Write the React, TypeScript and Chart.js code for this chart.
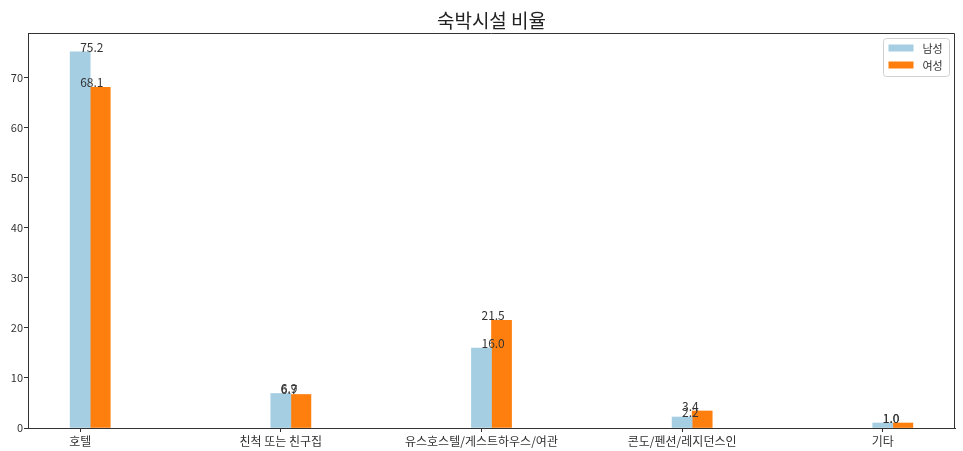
import React, { useEffect, useRef } from 'react';
import { Chart, registerables } from 'chart.js';

Chart.register(...registerables);

const chartTitle = '숙박시설 비율';
const categories = ['호텔', '친척 또는 친구집', '유스호스텔/게스트하우스/여관', '콘도/펜션/레지던스인', '기타'];
const seriesNames = ['남성', '여성'];
const maleValues = [75.2, 6.9, 16.0, 2.2, 1.0];
const femaleValues = [68.1, 6.7, 21.5, 3.4, 1.0];
const yTickValues = [0, 10, 20, 30, 40, 50, 60, 70];
const seriesColors = ['#a6cee3', '#ff7f0e'];

const BAR_WIDTH = 0.1;
const FONT = '"Noto Sans CJK KR", "Noto Sans", sans-serif';
const TEXT = '#333333';
const AXIS = '#333333';

const allSeries = [maleValues, femaleValues];
const xPositions = (k: number) => categories.map((_, i) => i + k * BAR_WIDTH);
const dataMinX = 0 - BAR_WIDTH / 2;
const dataMaxX = categories.length - 1 + BAR_WIDTH + BAR_WIDTH / 2;
const xPad = (dataMaxX - dataMinX) * 0.05;
const yMax = Math.max(...maleValues, ...femaleValues) * 1.05;

const framePlugin = {
  id: 'frame',
  afterDraw(chart: any) {
    const { ctx, chartArea } = chart;
    const l = Math.round(chartArea.left) + 0.5;
    const r = Math.round(chartArea.right) - 0.5;
    const t = Math.round(chartArea.top) + 0.5;
    ctx.save();
    ctx.strokeStyle = AXIS;
    ctx.lineWidth = 1;
    ctx.beginPath();
    ctx.moveTo(l, t);
    ctx.lineTo(r, t);
    ctx.lineTo(r, Math.round(chartArea.bottom));
    ctx.stroke();
    ctx.restore();
  },
};

const valueLabelPlugin = {
  id: 'valueLabels',
  afterDatasetsDraw(chart: any) {
    const { ctx } = chart;
    const xs = chart.scales.x;
    const ys = chart.scales.y;
    ctx.save();
    ctx.font = `12px ${FONT}`;
    ctx.fillStyle = TEXT;
    ctx.textAlign = 'left';
    ctx.textBaseline = 'alphabetic';
    allSeries.forEach((vals) => {
      vals.forEach((v, i) => {
        ctx.fillText(v.toFixed(1), xs.getPixelForValue(i), ys.getPixelForValue(v));
      });
    });
    ctx.restore();
  },
};

const legendPlugin = {
  id: 'boxLegend',
  afterDraw(chart: any) {
    const { ctx, chartArea } = chart;
    const w = 66;
    const h = 38;
    const x0 = Math.round(chartArea.right - 6 - w) + 0.5;
    const y0 = Math.round(chartArea.top + 5) + 0.5;
    ctx.save();
    ctx.beginPath();
    if ((ctx as any).roundRect) (ctx as any).roundRect(x0, y0, w, h, 3);
    else ctx.rect(x0, y0, w, h);
    ctx.fillStyle = 'rgba(255,255,255,0.85)';
    ctx.fill();
    ctx.strokeStyle = '#d0d0d0';
    ctx.lineWidth = 1;
    ctx.stroke();
    ctx.font = `11px ${FONT}`;
    ctx.textBaseline = 'middle';
    ctx.textAlign = 'left';
    seriesNames.forEach((name, k) => {
      const cy = y0 + 9.5 + k * 17;
      ctx.fillStyle = seriesColors[k];
      ctx.fillRect(x0 + 5, cy - 3.5, 25, 7);
      ctx.fillStyle = TEXT;
      ctx.fillText(name, x0 + 39, cy + 0.5);
    });
    ctx.restore();
  },
};

export default function App() {
  const canvasRef = useRef<HTMLCanvasElement | null>(null);

  useEffect(() => {
    document.body.style.margin = '0';
    const canvas = canvasRef.current;
    if (!canvas) return;
    const chart = new Chart(canvas, {
      type: 'bar',
      data: {
        datasets: allSeries.map((vals, k) => ({
          label: seriesNames[k],
          data: vals.map((v, i) => ({ x: xPositions(k)[i], y: v })),
          backgroundColor: seriesColors[k],
          borderWidth: 0,
          grouped: false,
          barPercentage: 1,
          categoryPercentage: 1,
        })),
      },
      options: {
        animation: false,
        responsive: true,
        maintainAspectRatio: false,
        events: [],
        layout: { padding: { left: 0, right: 8, top: 0, bottom: 0 } },
        plugins: {
          legend: { display: false },
          tooltip: { enabled: false },
          title: {
            display: true,
            text: chartTitle,
            fullSize: false,
            align: 'center',
            color: '#222222',
            font: { family: FONT, size: 19, weight: 'normal', lineHeight: 1.2 },
            padding: { top: 9, bottom: 1.2 },
          },
        },
        scales: {
          x: {
            type: 'linear',
            offset: false,
            min: dataMinX - xPad,
            max: dataMaxX + xPad,
            afterBuildTicks: (scale: any) => {
              scale.ticks = categories.map((_, i) => ({ value: i }));
            },
            afterFit: (scale: any) => {
              scale.height = 23;
            },
            ticks: {
              autoSkip: false,
              maxRotation: 0,
              minRotation: 0,
              padding: 2,
              color: TEXT,
              font: { family: FONT, size: 12 },
              callback: (value: any) => categories[Math.round(Number(value))] ?? '',
            },
            grid: {
              display: true,
              offset: false,
              drawOnChartArea: false,
              drawTicks: true,
              tickLength: 4,
              color: AXIS,
            },
            border: { display: true, color: AXIS, width: 1 },
          },
          y: {
            type: 'linear',
            min: 0,
            max: yMax,
            afterBuildTicks: (scale: any) => {
              scale.ticks = yTickValues.map((v) => ({ value: v }));
            },
            afterFit: (scale: any) => {
              scale.width = 28;
            },
            ticks: {
              padding: 1,
              color: TEXT,
              font: { family: FONT, size: 11 },
              callback: (value: any) => String(value),
            },
            grid: {
              display: true,
              drawOnChartArea: false,
              drawTicks: true,
              tickLength: 4,
              color: AXIS,
            },
            border: { display: true, color: AXIS, width: 1 },
          },
        },
      } as any,
      plugins: [valueLabelPlugin, framePlugin, legendPlugin],
    });
    return () => chart.destroy();
  }, []);

  return (
    <div style={{ position: 'relative', width: 963, height: 451 }}>
      <canvas ref={canvasRef} />
    </div>
  );
}
